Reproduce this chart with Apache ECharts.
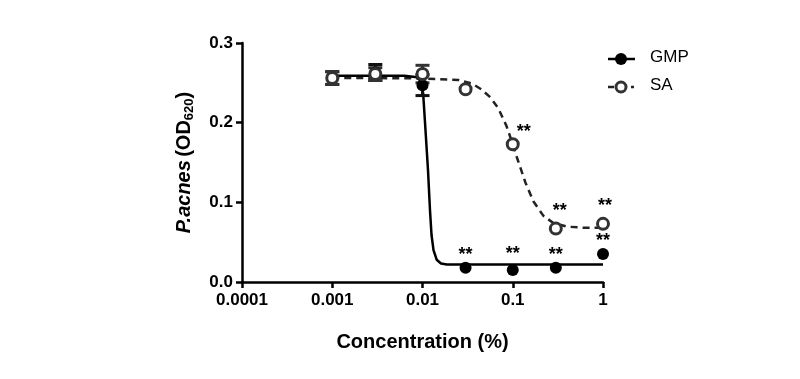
<!DOCTYPE html>
<html>
<head>
<meta charset="utf-8">
<script src="https://cdn.jsdelivr.net/npm/echarts@6/dist/echarts.min.js"></script>
<style>
html,body{margin:0;padding:0;background:#fff;}
#chart{width:800px;height:379px;}
</style>
</head>
<body>
<div id="chart"></div>
<script>
// ---- data ----
var concentrations = [0.001, 0.003, 0.01, 0.03, 0.1, 0.3, 1];
var gmpMean = [0.256, 0.263, 0.247, 0.018, 0.015, 0.018, 0.035];
var gmpErr  = [0.008, 0.010, 0.013, 0, 0, 0, 0];
var gmpSig  = ['', '', '', '**', '**', '**', '**'];
var saMean  = [0.256, 0.261, 0.261, 0.242, 0.173, 0.067, 0.073];
var saErr   = [0.008, 0.008, 0.011, 0, 0, 0, 0];
var saSig   = ['', '', '', '', '**', '**', '**'];

// fitted curves (log10 concentration, OD)
var gmpFitLogX = [-3, -2.2, -2.06, -2.02, -1.993, -1.967, -1.939, -1.917, -1.90, -1.878, -1.843, -1.795, -1.73, 0];
var gmpFitY    = [0.259, 0.259, 0.257, 0.252, 0.237, 0.191, 0.1405, 0.090, 0.059, 0.040, 0.028, 0.0232, 0.022, 0.022];
var saFitLogX  = [-3, -2.5, -2, -1.6, -1.45, -1.35, -1.25, -1.16, -1.07, -1.0, -0.95, -0.86, -0.77, -0.66, -0.55, -0.4, -0.2, 0];
var saFitY     = [0.256, 0.256, 0.2555, 0.2535, 0.249, 0.242, 0.232, 0.218, 0.196, 0.173, 0.155, 0.125, 0.101, 0.083, 0.074, 0.0695, 0.068, 0.068];

var xTicks = ['0.0001', '0.001', '0.01', '0.1', '1'];
var yTicks = ['0.0', '0.1', '0.2', '0.3'];

var FONT = 'Arial, "Liberation Sans", Helvetica, sans-serif';

function fitPairs(lx, ys) { return lx.map(function (l, i) { return [Math.pow(10, l), ys[i]]; }); }

function errData(mean, err) {
  var out = [];
  concentrations.forEach(function (c, i) {
    if (err[i] > 0) out.push([c, mean[i] - err[i], mean[i] + err[i]]);
  });
  return out;
}

function errRender(color) {
  return function (params, api) {
    var x = api.value(0);
    var lo = api.coord([x, api.value(1)]);
    var hi = api.coord([x, api.value(2)]);
    var hw = 7;
    var st = { stroke: color, lineWidth: 3 };
    return {
      type: 'group',
      children: [
        { type: 'line', shape: { x1: lo[0], y1: lo[1], x2: hi[0], y2: hi[1] }, style: st },
        { type: 'line', shape: { x1: lo[0] - hw, y1: lo[1], x2: lo[0] + hw, y2: lo[1] }, style: st },
        { type: 'line', shape: { x1: hi[0] - hw, y1: hi[1], x2: hi[0] + hw, y2: hi[1] }, style: st }
      ]
    };
  };
}

var sigLabel = { show: true, position: 'top', distance: 0, fontFamily: FONT, fontWeight: 'bold', fontSize: 18, color: '#000' };

function pointData(mean, sig, offsets) {
  return concentrations.map(function (c, i) {
    var d = { value: [c, mean[i]] };
    if (sig[i]) {
      d.label = Object.assign({}, sigLabel, { formatter: sig[i], offset: offsets[i] || [0, 0] });
    }
    return d;
  });
}

var chart = echarts.init(document.getElementById('chart'), null, { renderer: 'canvas' });

var option = {
  animation: false,
  backgroundColor: '#fff',
  grid: { left: 242, right: 197, top: 43, bottom: 97, containLabel: false },
  xAxis: {
    type: 'log',
    logBase: 10,
    min: 0.0001,
    max: 1,
    name: 'Concentration (%)',
    nameLocation: 'middle',
    nameGap: 50,
    nameTextStyle: { fontFamily: FONT, fontWeight: 'bold', fontSize: 20, color: '#000', verticalAlign: 'top' },
    axisLine: { lineStyle: { color: '#000', width: 2.5 } },
    axisTick: { show: true, length: 6, lineStyle: { color: '#000', width: 2.5 } },
    minorTick: { show: false },
    splitLine: { show: false },
    axisLabel: {
      margin: 10,
      fontFamily: FONT, fontWeight: 'bold', fontSize: 17, color: '#000',
      formatter: function (v) {
        var e = Math.round(Math.log10(v));
        return xTicks[e + 4];
      }
    }
  },
  yAxis: {
    type: 'value',
    min: 0,
    max: 0.3,
    interval: 0.1,
    name: '{i|P.acnes} {b|(OD}{s|620}{b|)}',
    nameLocation: 'middle',
    nameGap: 46,
    nameTextStyle: {
      color: '#000',
      rich: {
        i: { fontFamily: FONT, fontWeight: 'bold', fontStyle: 'italic', fontSize: 20, color: '#000', lineHeight: 24 },
        b: { fontFamily: FONT, fontWeight: 'bold', fontSize: 20, color: '#000', lineHeight: 24 },
        s: { fontFamily: FONT, fontWeight: 'bold', fontSize: 13, color: '#000', lineHeight: 24, verticalAlign: 'bottom', padding: [9, 0, 0, 0] }
      }
    },
    axisLine: { show: true, lineStyle: { color: '#000', width: 2.5 } },
    axisTick: { show: true, length: 6, lineStyle: { color: '#000', width: 2.5 } },
    splitLine: { show: false },
    axisLabel: {
      margin: 9,
      fontFamily: FONT, fontWeight: 'bold', fontSize: 17, color: '#000',
      formatter: function (v) { return yTicks[Math.round(v * 10)]; }
    }
  },
  series: [
    {
      name: 'SA fit', type: 'line', showSymbol: false, symbol: 'none', silent: true,
      data: fitPairs(saFitLogX, saFitY),
      lineStyle: { color: '#222', width: 2.5, type: [7, 5] }, z: 2
    },
    {
      name: 'GMP fit', type: 'line', showSymbol: false, symbol: 'none', silent: true,
      data: fitPairs(gmpFitLogX, gmpFitY),
      lineStyle: { color: '#000', width: 2.5 }, z: 3
    },
    {
      name: 'GMP err', type: 'custom', renderItem: errRender('#111'),
      data: errData(gmpMean, gmpErr), z: 4
    },
    {
      name: 'SA err', type: 'custom', renderItem: errRender('#333'),
      data: errData(saMean, saErr), z: 4
    },
    {
      name: 'GMP', type: 'scatter', symbol: 'circle', symbolSize: 12,
      itemStyle: { color: '#000', opacity: 1 },
      data: pointData(gmpMean, gmpSig, [null, null, null, [0, 2], [0, -1], [0, 2], [0, 2]]),
      z: 5
    },
    {
      name: 'SA', type: 'scatter', symbol: 'circle', symbolSize: 11,
      itemStyle: { color: '#fff', borderColor: '#333', borderWidth: 3, opacity: 1 },
      data: pointData(saMean, saSig, [null, null, null, null, [11, 4], [4, -2], [2, -2]]),
      z: 6
    }
  ],
  graphic: [
    { type: 'line', shape: { x1: 608, y1: 59, x2: 635, y2: 59 }, style: { stroke: '#000', lineWidth: 2.5 } },
    { type: 'circle', shape: { cx: 621, cy: 59, r: 6 }, style: { fill: '#000' } },
    { type: 'text', left: 650, top: 49, style: { text: 'GMP', font: '17px ' + FONT, fill: '#000' } },
    { type: 'line', shape: { x1: 608, y1: 87, x2: 614, y2: 87 }, style: { stroke: '#222', lineWidth: 2.5 } },
    { type: 'line', shape: { x1: 631, y1: 87, x2: 634, y2: 87 }, style: { stroke: '#222', lineWidth: 2.5 } },
    { type: 'circle', shape: { cx: 621, cy: 87, r: 5 }, style: { fill: '#fff', stroke: '#333', lineWidth: 3 } },
    { type: 'text', left: 650, top: 77, style: { text: 'SA', font: '17px ' + FONT, fill: '#000' } }
  ]
};

chart.setOption(option);
</script>
</body>
</html>
